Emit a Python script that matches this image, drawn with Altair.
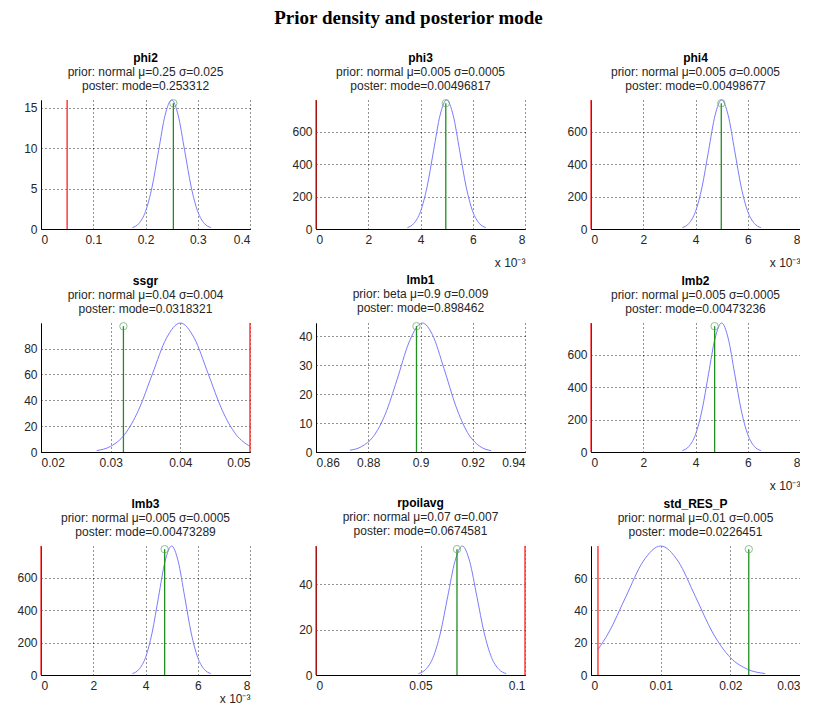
import altair as alt
import pandas as pd

# ---------------- data ----------------
names = ["phi2", "phi3", "phi4", "ssgr", "lmb1", "lmb2", "lmb3", "rpoilavg", "std_RES_P"]
priors = [
    "prior: normal μ=0.25 σ=0.025",
    "prior: normal μ=0.005 σ=0.0005",
    "prior: normal μ=0.005 σ=0.0005",
    "prior: normal μ=0.04 σ=0.004",
    "prior: beta μ=0.9 σ=0.009",
    "prior: normal μ=0.005 σ=0.0005",
    "prior: normal μ=0.005 σ=0.0005",
    "prior: normal μ=0.07 σ=0.007",
    "prior: normal μ=0.01 σ=0.005",
]
modes = [0.253312, 0.00496817, 0.00498677, 0.0318321, 0.898462,
         0.00473236, 0.00473289, 0.0674581, 0.0226451]
mode_labels = ["0.253312", "0.00496817", "0.00498677", "0.0318321", "0.898462",
               "0.00473236", "0.00473289", "0.0674581", "0.0226451"]
mode_heights = [15.56, 778, 778, 97.2, 43.4, 778, 778, 55.6, 77.8]
bounds = [[0.05], [0.0], [0.0], [0.05], [], [0.0], [0.0], [0.0, 0.1], [0.001]]

phi2_x = [0.175, 0.1875, 0.2, 0.2125, 0.225, 0.2375, 0.25, 0.2625, 0.275, 0.2875, 0.3, 0.3125, 0.325]
phi2_y = [0.18, 0.70, 2.16, 5.18, 9.68, 14.08, 15.96, 14.08, 9.68, 5.18, 2.16, 0.70, 0.18]

small_x = [0.0035, 0.00375, 0.004, 0.00425, 0.0045, 0.00475, 0.005, 0.00525, 0.0055, 0.00575, 0.006, 0.00625, 0.0065]
small_y = [8.9, 35.0, 108.0, 259.1, 483.9, 704.1, 797.9, 704.1, 483.9, 259.1, 108.0, 35.0, 8.9]

ssgr_x = [0.028, 0.030, 0.032, 0.034, 0.036, 0.038, 0.040, 0.042, 0.044, 0.046, 0.048, 0.050]
ssgr_y = [1.11, 4.38, 13.50, 32.38, 60.49, 88.01, 99.73, 88.01, 60.49, 32.38, 13.50, 4.38]

lmb1_x = [0.873, 0.8775, 0.882, 0.8865, 0.891, 0.8955, 0.9, 0.9007, 0.9045, 0.909, 0.9135, 0.918, 0.9225, 0.927]
lmb1_y = [0.6, 1.9, 5.4, 13.0, 24.9, 37.6, 44.3, 44.5, 40.6, 28.8, 15.9, 6.7, 2.1, 0.45]

rpoil_x = [0.049, 0.0525, 0.056, 0.0595, 0.063, 0.0665, 0.07, 0.0735, 0.077, 0.0805, 0.084, 0.0875, 0.091]
rpoil_y = [0.63, 2.50, 7.71, 18.50, 34.57, 50.29, 56.99, 50.29, 34.57, 18.50, 7.71, 2.50, 0.63]

std_x = [0.001, 0.0025, 0.005, 0.0075, 0.01, 0.0125, 0.015, 0.0175, 0.02, 0.0225, 0.025]
std_y = [15.8, 25.9, 48.4, 70.4, 79.8, 70.4, 48.4, 25.9, 10.8, 3.5, 0.89]

curves_x = [phi2_x, small_x, small_x, ssgr_x, lmb1_x, small_x, small_x, rpoil_x, std_x]
curves_y = [phi2_y, small_y, small_y, ssgr_y, lmb1_y, small_y, small_y, rpoil_y, std_y]

x_domains = [[0, 0.4], [0, 0.008], [0, 0.008], [0.02, 0.05], [0.86, 0.94],
             [0, 0.008], [0, 0.008], [0, 0.1], [0, 0.03]]
y_tops = [15.96, 797.9, 797.9, 99.73, 44.5, 797.9, 797.9, 57.0, 79.8]
x_ticks = [
    [0, 0.1, 0.2, 0.3, 0.4],
    [0, 0.002, 0.004, 0.006, 0.008],
    [0, 0.002, 0.004, 0.006, 0.008],
    [0.02, 0.03, 0.04, 0.05],
    [0.86, 0.88, 0.9, 0.92, 0.94],
    [0, 0.002, 0.004, 0.006, 0.008],
    [0, 0.002, 0.004, 0.006, 0.008],
    [0, 0.05, 0.1],
    [0, 0.01, 0.02, 0.03],
]
y_ticks = [
    [0, 5, 10, 15],
    [0, 200, 400, 600],
    [0, 200, 400, 600],
    [0, 20, 40, 60, 80],
    [0, 10, 20, 30, 40],
    [0, 200, 400, 600],
    [0, 200, 400, 600],
    [0, 20, 40],
    [0, 20, 40, 60],
]
scaled = [False, True, True, False, False, True, True, False, False]

# ---------------- styling ----------------
FONT = "Liberation Sans"
BLUE = "#7b7bff"
GREEN = "#1f8f1f"
CIRCLE = "#5aae5a"
RED = "#ff2020"
W, H = 209, 129
GRID = dict(grid=True, gridColor="#000000", gridDash=[1, 3], gridWidth=1, gridOpacity=0.85,
            ticks=False, domainColor="#000000", domainWidth=1, labelOverlap=False,
            tickCount=12, labelFont=FONT, labelFontSize=12, labelColor="#262626")


def panel(i):
    curve = pd.DataFrame({"x": curves_x[i], "y": curves_y[i]})
    xs = alt.Scale(domain=x_domains[i], nice=False, zero=False)
    ys = alt.Scale(domain=[0, y_tops[i]], nice=False)
    label_expr = "format(datum.value*1000, '~g')" if scaled[i] else "format(datum.value, '~g')"
    xkw = dict(values=x_ticks[i], labelExpr=label_expr, labelPadding=5, **GRID)
    if scaled[i]:
        xkw.update(title="x 10⁻³", titleAnchor="end", titleAlign="right",
                   titleFontWeight="normal", titleFont=FONT, titleFontSize=12,
                   titleColor="#262626", titlePadding=12 if i < 6 else 2)
    else:
        xkw.update(title=None)
    xaxis = alt.Axis(**xkw)
    yaxis = alt.Axis(values=y_ticks[i], title=None, labelPadding=4, **GRID)

    line = alt.Chart(curve).mark_line(color=BLUE, strokeWidth=1, interpolate="monotone").encode(
        x=alt.X("x:Q", scale=xs, axis=xaxis),
        y=alt.Y("y:Q", scale=ys, axis=yaxis),
    )
    layers = [line]
    if bounds[i]:
        bdf = pd.DataFrame({"x": bounds[i]})
        layers.append(alt.Chart(bdf).mark_rule(color=RED, strokeWidth=1.3).encode(
            x=alt.X("x:Q", scale=xs)))
    mdf = pd.DataFrame({"x": [modes[i]], "y0": [0], "y": [mode_heights[i]]})
    layers.append(alt.Chart(mdf).mark_rule(color=GREEN, strokeWidth=1.3).encode(
        x=alt.X("x:Q", scale=xs), y=alt.Y("y0:Q", scale=ys), y2="y:Q"))
    layers.append(alt.Chart(mdf).mark_point(shape="circle", filled=False, color=CIRCLE,
                                            size=55, strokeWidth=1).encode(
        x=alt.X("x:Q", scale=xs), y=alt.Y("y:Q", scale=ys)))
    return alt.layer(*layers).properties(
        width=W, height=H,
        title=alt.TitleParams(
            text=names[i],
            subtitle=[priors[i], "poster: mode=" + mode_labels[i]],
            font=FONT, fontSize=12, fontWeight="bold", color="#000000",
            subtitleFont=FONT, subtitleFontSize=12, subtitleColor="#262626",
            subtitlePadding=2, subtitleLineHeight=14, offset=5, anchor="middle",
        ),
    )


chart = alt.concat(*[panel(i) for i in range(9)], columns=3, bounds="flush",
                   spacing={"row": 94, "column": 66}).properties(
    title=alt.TitleParams("Prior density and posterior mode", font="Liberation Serif",
                          fontSize=19, fontWeight="bold", anchor="middle", color="#000000",
                          offset=24),
    padding={"left": 8, "top": 0, "right": 0, "bottom": 0},
    background="white",
).configure_view(stroke=None)

chart.save("out.html", embed_options={"renderer": "svg", "actions": False})
